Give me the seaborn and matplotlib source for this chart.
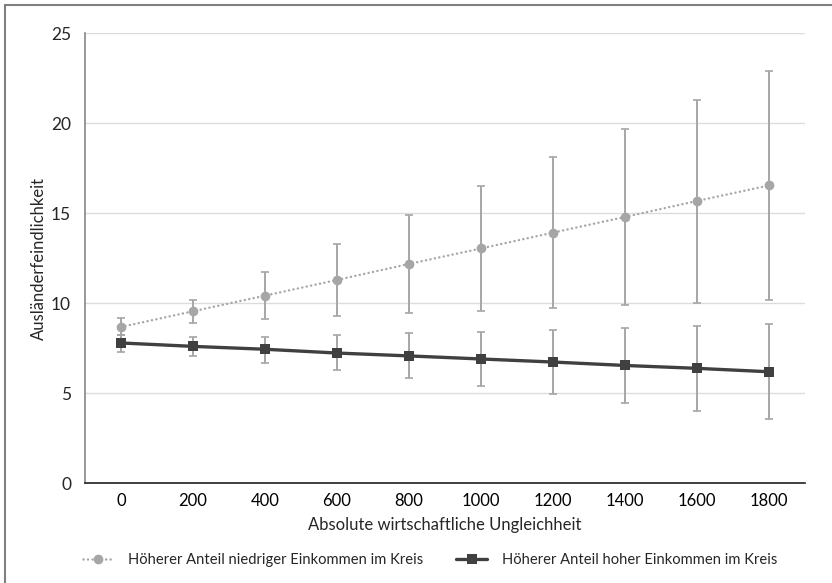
import numpy as np
import pandas as pd
import matplotlib
matplotlib.use("Agg")
import matplotlib.pyplot as plt
from matplotlib.lines import Line2D
import seaborn as sns

# Data
categories = ["0", "200", "400", "600", "800", "1000", "1200", "1400", "1600", "1800"]

low_mean = [8.67, 9.54, 10.41, 11.28, 12.17, 13.03, 13.91, 14.78, 15.67, 16.53]
low_upper = [9.14, 10.19, 11.71, 13.28, 14.89, 16.50, 18.11, 19.68, 21.28, 22.87]
low_lower = [8.20, 8.89, 9.11, 9.28, 9.44, 9.57, 9.74, 9.87, 10.00, 10.14]

high_mean = [7.78, 7.59, 7.43, 7.22, 7.06, 6.89, 6.72, 6.53, 6.37, 6.18]
high_upper = [8.24, 8.13, 8.13, 8.20, 8.33, 8.41, 8.50, 8.61, 8.72, 8.83]
high_lower = [7.28, 7.04, 6.67, 6.26, 5.81, 5.39, 4.92, 4.46, 4.00, 3.56]

label_low = "Höherer Anteil niedriger Einkommen im Kreis"
label_high = "Höherer Anteil hoher Einkommen im Kreis"

sns.set_style("white")
plt.rcParams['font.family'] = ['Lato', 'DejaVu Sans']

LIGHT = "#a6a6a6"
DARK = "#404040"

pos = np.arange(len(categories))
df = pd.DataFrame({
    "pos": np.concatenate([pos, pos]),
    "value": low_mean + high_mean,
    "series": [label_low] * len(pos) + [label_high] * len(pos),
})

fig = plt.figure(figsize=(8.32, 5.83), dpi=100)
ax = fig.add_axes([85 / 832, 100 / 583, 720 / 832, 450 / 583])

# error bars (same gray for both series)
for mean, lo, hi in [(low_mean, low_lower, low_upper), (high_mean, high_lower, high_upper)]:
    mean = np.array(mean)
    yerr = [mean - np.array(lo), np.array(hi) - mean]
    ax.errorbar(pos, mean, yerr=yerr, fmt="none", ecolor=LIGHT, elinewidth=1.4,
                capsize=3, capthick=1.2, zorder=2)

sns.lineplot(data=df[df.series == label_low], x="pos", y="value", ax=ax,
             color=LIGHT, marker="o", markersize=7, markeredgewidth=0,
             linewidth=1.8, linestyle=(0, (0.01, 1.8)), dash_capstyle="round",
             label=label_low, zorder=3)
sns.lineplot(data=df[df.series == label_high], x="pos", y="value", ax=ax,
             color=DARK, marker="s", markersize=6.5, markeredgewidth=0,
             linewidth=2.4, label=label_high, zorder=4)

ax.set_xlim(-0.5, len(categories) - 0.5)
ax.set_ylim(0, 25)
ax.set_yticks([0, 5, 10, 15, 20, 25])
ax.set_xticks(pos)
ax.set_xticklabels(categories)
ax.set_xticks(np.arange(-0.5, len(categories), 1), minor=True)
ax.tick_params(axis="x", which="major", length=0, labelsize=12, pad=7, colors="#000000")
ax.tick_params(axis="x", which="minor", length=4, width=1, color="#404040", direction="out")
ax.tick_params(axis="y", length=4, width=1, color="#868686", labelsize=12.5, pad=6)

ax.yaxis.grid(True, color="#dcdcdc", linewidth=1)
ax.set_axisbelow(True)
for s in ["top", "right"]:
    ax.spines[s].set_visible(False)
ax.spines["left"].set_color("#868686")
ax.spines["left"].set_linewidth(1.2)
ax.spines["bottom"].set_color("#202020")
ax.spines["bottom"].set_linewidth(1.2)

ax.set_xlabel("Absolute wirtschaftliche Ungleichheit", fontsize=12, labelpad=6)
ax.set_ylabel("Ausländerfeindlichkeit", fontsize=12, labelpad=3)

ax.get_legend().remove()
handles, labels = ax.get_legend_handles_labels()
fig.legend(handles, labels, loc="center", bbox_to_anchor=(430 / 832, 23 / 583),
           ncol=2, frameon=False, fontsize=10.6, handlelength=2.1,
           columnspacing=2.2, handletextpad=1.0)

# outer frame (top and left edges visible in reference)
fig.add_artist(Line2D([5 / 832, 1], [1 - 5 / 583, 1 - 5 / 583], color="#7f7f7f", lw=1.5,
                      transform=fig.transFigure))
fig.add_artist(Line2D([5 / 832, 5 / 832], [0, 1 - 5 / 583], color="#7f7f7f", lw=1.5,
                      transform=fig.transFigure))

fig.savefig("out.png", dpi=100)
plt.close(fig)
